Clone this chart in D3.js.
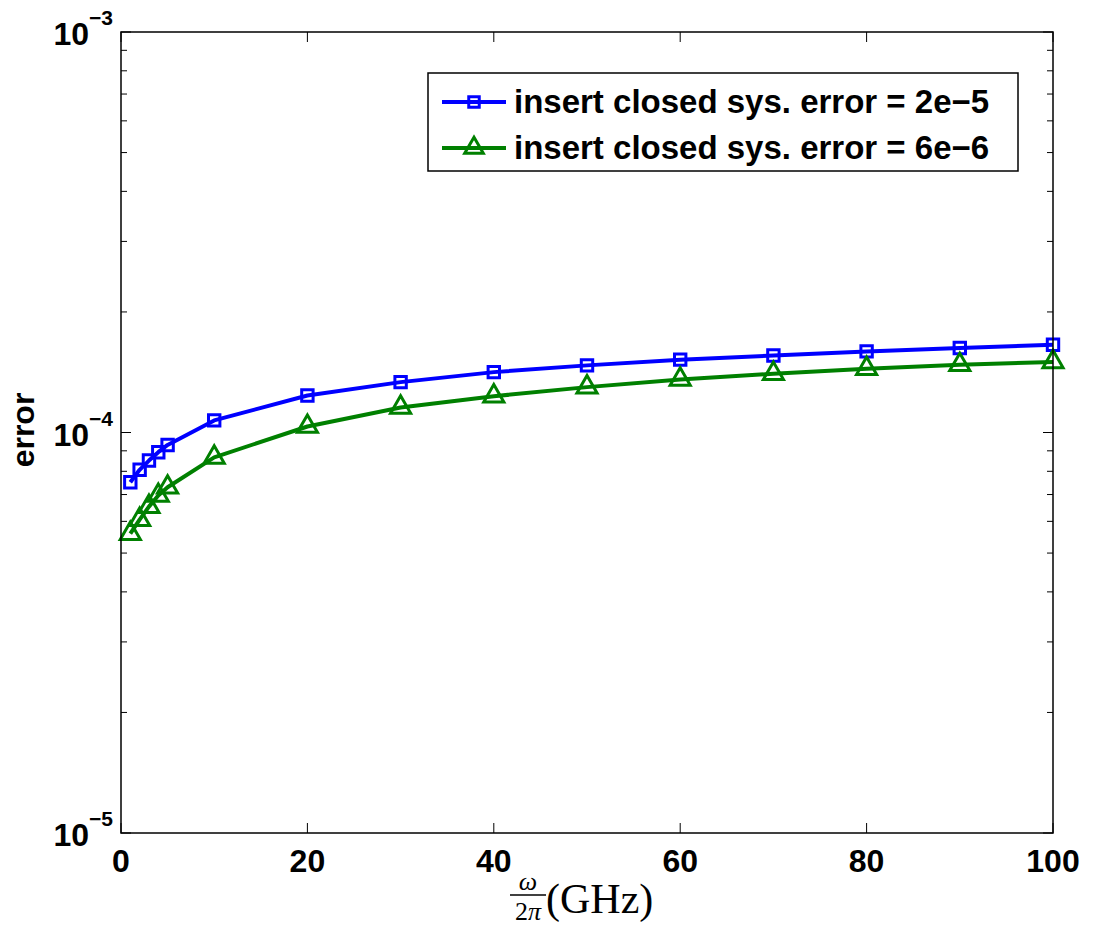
<!DOCTYPE html>
<html lang="en">
<head>
<meta charset="utf-8">
<title>error vs frequency</title>
<script src="https://d3js.org/d3.v7.min.js"></script>
<style>
  body { margin: 0; background: #fff; }
  text { font-family: Arial, "Liberation Sans", sans-serif; }
</style>
</head>
<body>
<script>
'use strict';

// data
var freq = [1, 2, 3, 4, 5, 10, 20, 30, 40, 50, 60, 70, 80, 90, 100];
var err2e5 = [7.51e-5, 8.07e-5, 8.51e-5, 8.93e-5, 9.31e-5, 1.072e-4, 1.237e-4,
              1.336e-4, 1.415e-4, 1.471e-4, 1.520e-4, 1.557e-4, 1.594e-4, 1.625e-4, 1.656e-4];
var err6e6 = [5.59e-5, 6.06e-5, 6.53e-5, 6.96e-5, 7.30e-5, 8.67e-5, 1.035e-4,
              1.155e-4, 1.232e-4, 1.298e-4, 1.357e-4, 1.402e-4, 1.443e-4, 1.476e-4, 1.500e-4];
var seriesNames = ["insert closed sys. error = 2e\u22125", "insert closed sys. error = 6e\u22126"];
var xTicks = [0, 20, 40, 60, 80, 100];
var yDecades = [-5, -4, -3];

var W = 1093, H = 933;
var pL = 121, pR = 1053, pT = 32, pB = 833;

var svg = d3.select("body").append("svg")
    .attr("width", W).attr("height", H);

var x = d3.scaleLinear().domain([0, 100]).range([pL, pR]);
var y = d3.scaleLog().domain([1e-5, 1e-3]).range([pB, pT]);

// minor ticks 2..9 per decade
var minor = [];
yDecades.slice(0, 2).forEach(function(p) {
    for (var k = 2; k <= 9; k++) minor.push(k * Math.pow(10, p));
});

var g = svg.append("g").attr("stroke", "#000").attr("stroke-width", 1);
minor.forEach(function(v) {
    g.append("line").attr("x1", pL).attr("x2", pL + 6).attr("y1", y(v)).attr("y2", y(v));
    g.append("line").attr("x1", pR).attr("x2", pR - 6).attr("y1", y(v)).attr("y2", y(v));
});
yDecades.forEach(function(p) {
    var v = Math.pow(10, p);
    g.append("line").attr("x1", pL).attr("x2", pL + 10).attr("y1", y(v)).attr("y2", y(v));
    g.append("line").attr("x1", pR).attr("x2", pR - 10).attr("y1", y(v)).attr("y2", y(v));
});
xTicks.forEach(function(t) {
    g.append("line").attr("x1", x(t)).attr("x2", x(t)).attr("y1", pB).attr("y2", pB - 10);
    g.append("line").attr("x1", x(t)).attr("x2", x(t)).attr("y1", pT).attr("y2", pT + 10);
});

// y tick labels 10^p
yDecades.forEach(function(p) {
    var t = svg.append("text")
        .attr("x", 113).attr("y", y(Math.pow(10, p)) + 13)
        .attr("text-anchor", "end")
        .attr("font-weight", "bold").attr("font-size", 32);
    t.append("tspan").text("10");
    t.append("tspan").attr("font-size", 21).attr("dy", -20).text("\u2212" + Math.abs(p));
});

// x tick labels
xTicks.forEach(function(t) {
    svg.append("text")
        .attr("x", x(t)).attr("y", 872)
        .attr("text-anchor", "middle")
        .attr("font-weight", "bold").attr("font-size", 32)
        .text(t);
});

// y axis label
svg.append("text")
    .attr("transform", "translate(34,430) rotate(-90)")
    .attr("text-anchor", "middle")
    .attr("font-weight", "bold").attr("font-size", 32)
    .text("error");

// x axis label: omega / 2pi (GHz)
var serif = "'Liberation Serif', 'DejaVu Serif', serif";
var xl = svg.append("g");
xl.append("text").attr("x", 528).attr("y", 890).attr("text-anchor", "middle")
    .attr("font-style", "italic").attr("font-size", 26).style("font-family", serif).text("\u03c9");
xl.append("line").attr("x1", 510).attr("x2", 546).attr("y1", 895).attr("y2", 895)
    .attr("stroke", "#000").attr("stroke-width", 1.4);
var den = xl.append("text").attr("x", 528).attr("y", 920).attr("text-anchor", "middle")
    .attr("font-size", 26).style("font-family", serif);
den.append("tspan").text("2");
den.append("tspan").attr("font-style", "italic").text("\u03c0");
xl.append("text").attr("x", 546).attr("y", 913)
    .attr("font-size", 42).style("font-family", serif).text("(GHz)");

// series
var series = [
    { name: seriesNames[0], vals: err2e5, color: "#0000ff", sym: d3.symbolSquare, size: 130, lsize: 110 },
    { name: seriesNames[1], vals: err6e6, color: "#008000", sym: d3.symbolTriangle, size: 175, lsize: 150 }
];

var line = d3.line()
    .x(function(d) { return x(d[0]); })
    .y(function(d) { return y(d[1]); });

series.forEach(function(s) {
    var pts = freq.map(function(f, i) { return [f, s.vals[i]]; });
    svg.append("path").datum(pts)
        .attr("d", line)
        .attr("fill", "none").attr("stroke", s.color).attr("stroke-width", 4)
        .attr("stroke-linejoin", "round");
    svg.selectAll(null).data(pts).enter().append("path")
        .attr("d", d3.symbol().type(s.sym).size(s.size))
        .attr("transform", function(d) { return "translate(" + x(d[0]) + "," + y(d[1]) + ")"; })
        .attr("fill", "none").attr("stroke", s.color).attr("stroke-width", 3);
});

// plot frame
svg.append("rect")
    .attr("x", pL).attr("y", pT).attr("width", pR - pL).attr("height", pB - pT)
    .attr("fill", "none").attr("stroke", "#000").attr("stroke-width", 1.5);

// legend
var lg = svg.append("g");
lg.append("rect").attr("x", 428).attr("y", 73).attr("width", 590).attr("height", 98)
    .attr("fill", "#fff").attr("stroke", "#000").attr("stroke-width", 1.5);
series.forEach(function(s, i) {
    var cy = 102 + i * 46;
    lg.append("line").attr("x1", 442).attr("x2", 506).attr("y1", cy).attr("y2", cy)
        .attr("stroke", s.color).attr("stroke-width", 4);
    lg.append("path").attr("d", d3.symbol().type(s.sym).size(s.lsize))
        .attr("transform", "translate(474," + cy + ")")
        .attr("fill", "none").attr("stroke", s.color).attr("stroke-width", 3);
    lg.append("text").attr("x", 514).attr("y", cy + 11)
        .attr("font-weight", "bold").attr("font-size", 33)
        .text(s.name);
});
</script>
</body>
</html>
